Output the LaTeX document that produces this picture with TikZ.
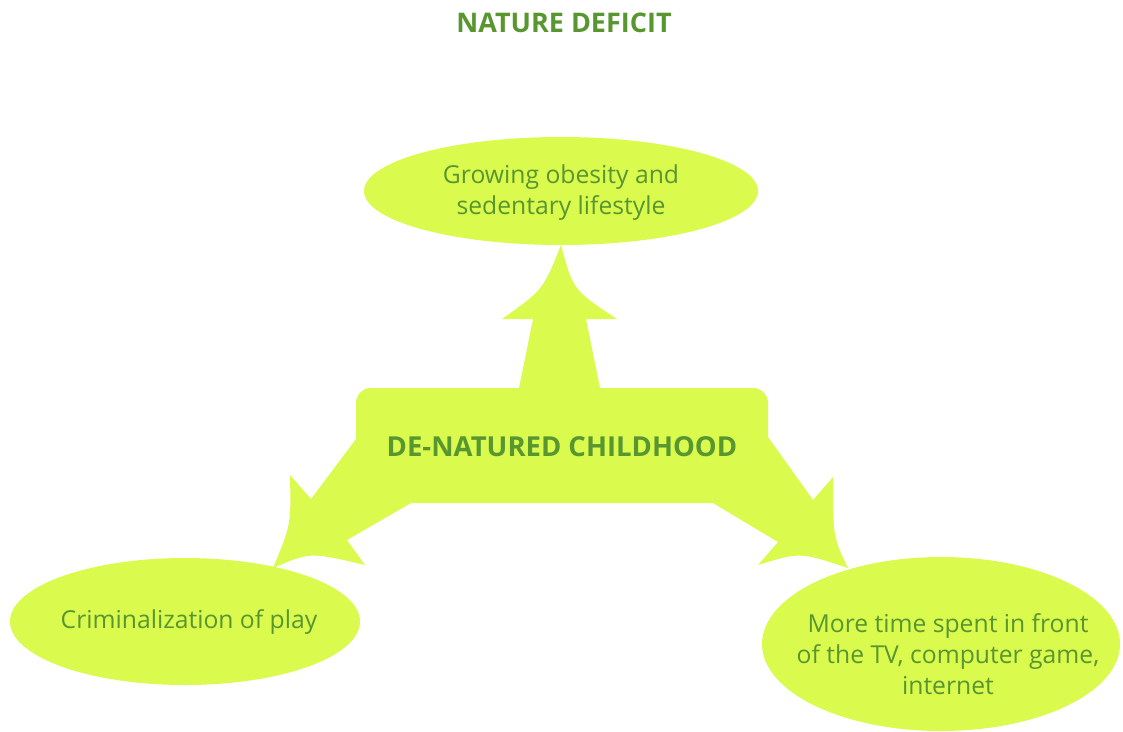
\documentclass[tikz,border=0pt]{standalone}
\usepackage{fontspec}
\setmainfont{Open Sans}
\usetikzlibrary{shapes.geometric}
\definecolor{lime}{RGB}{218,250,78}
\definecolor{leaf}{RGB}{88,150,48}
\begin{document}
\begin{tikzpicture}[x=1pt,y=-1pt,
  bubble/.style={ellipse,fill=lime,draw=none,inner sep=0pt,outer sep=0pt},
  label/.style={text=leaf,align=center,font=\fontsize{24.7}{31}\selectfont},
  heading/.style={text=leaf,font=\fontsize{27.5}{30}\selectfont\bfseries}]
\useasboundingbox (0,0) rectangle (1123,731);

% the three effect bubbles
\node[bubble,minimum width=394pt,minimum height=108pt] (obesity) at (561,191) {};
\node[bubble,minimum width=350pt,minimum height=127pt] (play) at (185,621.5) {};
\node[bubble,minimum width=358pt,minimum height=174pt] (screen) at (941,644) {};

% central box with its three arrows, one filled outline
\fill[lime] (356,439) -- (356,420) [rounded corners=15pt] -- (356,388) -- (450,388)
  [sharp corners] -- (519,388) -- (533,319) -- (502,319)
  .. controls (543,290) .. (obesity.south) .. controls (573,290) .. (617,319)
  -- (586,319) -- (600,388) -- (700,388) [rounded corners=15pt] -- (768,388)
  -- (768,420) [sharp corners] -- (768,437) -- (813,500) -- (833,477)
  .. controls (833,537) .. (848,568) .. controls (800,552) .. (758,565)
  -- (778,542) -- (713,503) -- (411,503) -- (347,540) -- (365,565)
  .. controls (310,552) .. (273,568) .. controls (291,525) .. (290,475)
  -- (311,499) -- cycle;

% texts
\node[heading,font=\fontsize{27}{30}\selectfont\bfseries] (title) at (564,23) {NATURE DEFICIT};
\node[heading] (centre) at (562,447) {DE-NATURED CHILDHOOD};
\node[label] (obesity-text) at (561,193) {Growing obesity and\\sedentary lifestyle};
\node[label] (play-text) at (189,622) {Criminalization of play};
\node[label] (screen-text) at (948,654) {More time spent in front\\of the TV, computer game,\\internet};
\end{tikzpicture}
\end{document}
